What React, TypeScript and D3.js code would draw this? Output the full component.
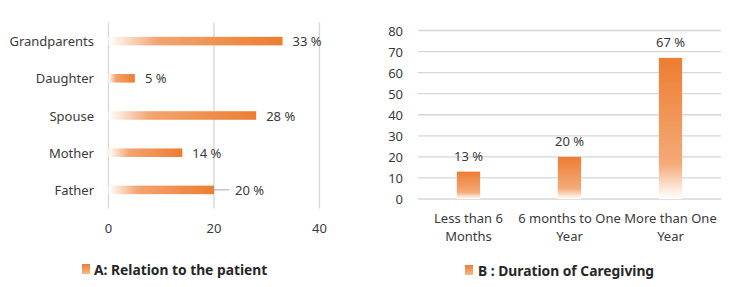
import React from "react";
import * as d3 from "d3";

const relCategories = ["Grandparents", "Daughter", "Spouse", "Mother", "Father"];
const relValues = [33, 5, 28, 14, 20];
const relTicks = [0, 20, 40];
const relLegend = "A: Relation to the patient";

const durCategories = [["Less than 6", "Months"], ["6 months to One", "Year"], ["More than One", "Year"]];
const durValues = [13, 20, 67];
const durTicks = [0, 10, 20, 30, 40, 50, 60, 70, 80];
const durLegend = "B : Duration of Caregiving";

const FONT = "'Noto Sans', 'Open Sans', sans-serif";
const GRID = "#D6D6D6";
const TEXT = "#3A3A3A";

export default function App() {
  // Left chart scales
  const xL = d3.scaleLinear().domain([0, 40]).range([108.5, 319.5]);
  const yL = d3.scaleBand().domain(relCategories).range([22.5, 208.5]).paddingInner(0.77).paddingOuter(0.385);

  // Right chart scales
  const xR = d3.scaleBand().domain(durCategories.map((d) => d.join(" "))).range([418, 721]).paddingInner(0.77).paddingOuter(0.385);
  const yR = d3.scaleLinear().domain([0, 80]).range([199, 30.5]);

  return (
    <svg width={750} height={287} style={{ position: "absolute", left: 0, top: 0, background: "#fff" }} fontFamily={FONT}>
      <defs>
        <linearGradient id="gh" x1="0" y1="0" x2="1" y2="0">
          <stop offset="0" stopColor="#FFFFFF" />
          <stop offset="0.06" stopColor="#FCEBDF" />
          <stop offset="0.28" stopColor="#F3A470" />
          <stop offset="1" stopColor="#ED7D31" />
        </linearGradient>
        <linearGradient id="gv" x1="0" y1="1" x2="0" y2="0">
          <stop offset="0" stopColor="#FFFFFF" />
          <stop offset="0.05" stopColor="#FDF0E6" />
          <stop offset="0.25" stopColor="#F4AA78" />
          <stop offset="1" stopColor="#ED7D31" />
        </linearGradient>
        <linearGradient id="gl" x1="0" y1="1" x2="0" y2="0">
          <stop offset="0" stopColor="#F6B88E" />
          <stop offset="1" stopColor="#ED7D31" />
        </linearGradient>
      </defs>

      {/* Left chart */}
      <g>
        {relTicks.map((t) => (
          <g key={t}>
            <line x1={xL(t)} x2={xL(t)} y1={22.5} y2={208.5} stroke={GRID} strokeWidth={1.3} />
            <text x={xL(t)} y={228} textAnchor="middle" dominantBaseline="central" fontSize={13} fill={TEXT}>
              {t}
            </text>
          </g>
        ))}
        {relCategories.map((c, i) => {
          const y = yL(c)!;
          const h = yL.bandwidth();
          const v = relValues[i];
          const xe = xL(v);
          const cy = y + h / 2;
          const leader = c === "Father";
          return (
            <g key={c}>
              <text x={94} y={cy} textAnchor="end" dominantBaseline="central" fontSize={13} fill={TEXT}>
                {c}
              </text>
              <rect x={xL(0)} y={y} width={xe - xL(0)} height={h} fill="url(#gh)" />
              {leader && <line x1={xe} x2={xe + 15} y1={cy} y2={cy} stroke="#A6A6A6" strokeWidth={1} />}
              <text x={leader ? xe + 21 : xe + 10} y={cy} dominantBaseline="central" fontSize={13} fill={TEXT}>
                {v} %
              </text>
            </g>
          );
        })}
        <rect x={82} y={264} width={8} height={10} fill="url(#gl)" />
        <text x={94} y={269.5} dominantBaseline="central" fontSize={13.8} fontWeight="bold" fill="#262626">
          {relLegend}
        </text>
      </g>

      {/* Right chart */}
      <g>
        {durTicks.map((t) => (
          <g key={t}>
            <line x1={418} x2={721} y1={yR(t)} y2={yR(t)} stroke={GRID} strokeWidth={1.3} />
            <text x={403} y={yR(t)} textAnchor="end" dominantBaseline="central" fontSize={13} fill={TEXT}>
              {t}
            </text>
          </g>
        ))}
        {durCategories.map((c, i) => {
          const key = c.join(" ");
          const x = xR(key)!;
          const w = xR.bandwidth();
          const v = durValues[i];
          const cx = x + w / 2;
          return (
            <g key={key}>
              <rect x={x} y={yR(v)} width={w} height={yR(0) - yR(v)} fill="url(#gv)" />
              <text x={cx} y={yR(v) - 15.5} textAnchor="middle" dominantBaseline="central" fontSize={13} fill={TEXT}>
                {v} %
              </text>
              {c.map((line, j) => (
                <text key={j} x={cx} y={218 + j * 18} textAnchor="middle" dominantBaseline="central" fontSize={13} fill={TEXT}>
                  {line}
                </text>
              ))}
            </g>
          );
        })}
        <rect x={465} y={265} width={8} height={10} fill="url(#gl)" />
        <text x={478} y={270} dominantBaseline="central" fontSize={13.8} fontWeight="bold" fill="#262626">
          {durLegend}
        </text>
      </g>
    </svg>
  );
}
